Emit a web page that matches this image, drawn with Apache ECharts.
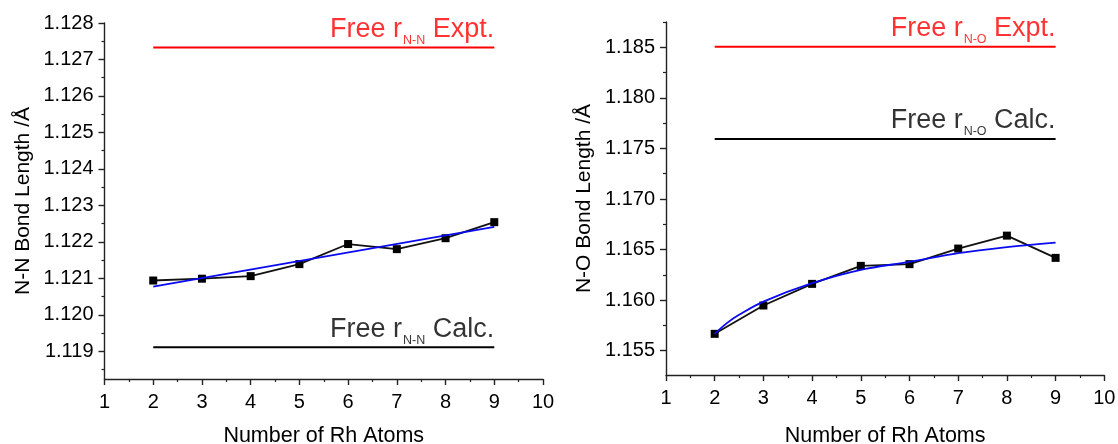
<!DOCTYPE html>
<html><head><meta charset="utf-8">
<script src="https://cdn.jsdelivr.net/npm/echarts@6/dist/echarts.min.js"></script>
<style>html,body{margin:0;padding:0;background:#fff}#c{width:1118px;height:444px}</style>
</head><body><div id="c"></div>
<script>
// ---- data ----
const rhAtoms = [2, 3, 4, 5, 6, 7, 8, 9];
const nnLength = [1.12094, 1.12099, 1.12106, 1.12139, 1.12194, 1.12180, 1.12210, 1.12254];
const nnFitX = [2, 9];
const nnFit = [1.12077, 1.12241];
const nnExpt = 1.12733;
const nnCalc = 1.11911;
const noLength = [1.15667, 1.15947, 1.16161, 1.16339, 1.16356, 1.16510, 1.16638, 1.16418];
const noFitX = [2, 2.25, 2.5, 3, 4, 5, 6, 7, 8, 9];
const noFit = [1.15667, 1.15773, 1.15855, 1.15986, 1.16168, 1.16300, 1.16378, 1.16464, 1.16524, 1.16569];
const noExpt = 1.18505;
const noCalc = 1.17594;
const refStart = 2, refEnd = 9;
const xTicks = [1, 2, 3, 4, 5, 6, 7, 8, 9, 10];
const xMinor = [1.5, 2.5, 3.5, 4.5, 5.5, 6.5, 7.5, 8.5, 9.5];
const nnTicks = [1.119, 1.120, 1.121, 1.122, 1.123, 1.124, 1.125, 1.126, 1.127, 1.128];
const nnMinor = [1.1185, 1.1195, 1.1205, 1.1215, 1.1225, 1.1235, 1.1245, 1.1255, 1.1265, 1.1275];
const noTicks = [1.155, 1.160, 1.165, 1.170, 1.175, 1.180, 1.185];
const noMinor = [1.1575, 1.1625, 1.1675, 1.1725, 1.1775, 1.1825, 1.1875];
const nnRange = [1.11824, 1.128];
const noRange = [1.1526, 1.1875];
const xRange = [1, 10];

const FONT = '"Liberation Sans", Arial, sans-serif';
const AX = '#222';
const TXT = '#000';

function mainX(grid, gap) {
  return {
    type: 'value', gridIndex: grid, position: 'bottom', min: xRange[0], max: xRange[1],
    name: 'Number of Rh Atoms', nameLocation: 'middle', nameGap: gap,
    nameTextStyle: {fontFamily: FONT, fontSize: 21.5, color: TXT},
    axisLine: {show: true, lineStyle: {color: AX, width: 1.4}},
    axisTick: {show: true, inside: false, length: 6, customValues: xTicks, lineStyle: {color: AX, width: 1.4}},
    axisLabel: {customValues: xTicks, fontFamily: FONT, fontSize: 20, color: TXT, margin: 13},
    splitLine: {show: false}
  };
}
function minorX(grid) {
  return {
    type: 'value', gridIndex: grid, position: 'bottom', min: xRange[0], max: xRange[1],
    axisLine: {show: false},
    axisTick: {show: true, inside: false, length: 3, customValues: xMinor, lineStyle: {color: AX, width: 1.2}},
    axisLabel: {show: false, customValues: xMinor},
    splitLine: {show: false}
  };
}
function mainY(grid, range, ticks, name) {
  return {
    type: 'value', gridIndex: grid, position: 'left', min: range[0], max: range[1],
    name: name, nameLocation: 'middle', nameGap: 71,
    nameTextStyle: {fontFamily: FONT, fontSize: 21, color: TXT},
    axisLine: {show: true, lineStyle: {color: AX, width: 1.4}},
    axisTick: {show: true, inside: false, length: 6, customValues: ticks, lineStyle: {color: AX, width: 1.4}},
    axisLabel: {customValues: ticks, fontFamily: FONT, fontSize: 20, color: TXT, margin: 11,
      formatter: v => v.toFixed(3)},
    splitLine: {show: false}
  };
}
function minorY(grid, range, ticks) {
  return {
    type: 'value', gridIndex: grid, position: 'left', min: range[0], max: range[1],
    axisLine: {show: false},
    axisTick: {show: true, inside: false, length: 3, customValues: ticks, lineStyle: {color: AX, width: 1.2}},
    axisLabel: {show: false, customValues: ticks},
    splitLine: {show: false}
  };
}
function refLine(xi, yi, v, color) {
  return {
    type: 'line', xAxisIndex: xi, yAxisIndex: yi, data: [[refStart, v], [refEnd, v]],
    symbol: 'none', lineStyle: {color: color, width: 2}, silent: true, z: 2
  };
}
function refLabel(xi, yi, v, color, sub, word) {
  return {
    type: 'scatter', xAxisIndex: xi, yAxisIndex: yi, data: [[refEnd, v]],
    symbolSize: 1, itemStyle: {color: 'rgba(0,0,0,0)'}, silent: true, z: 5,
    label: {
      show: true, position: 'top', distance: 4, align: 'right', verticalAlign: 'bottom',
      formatter: '{m|Free r}{s|' + sub + '}{m| ' + word + '}',
      rich: {
        m: {fontFamily: FONT, fontSize: 27, lineHeight: 27, verticalAlign: 'top', color: color},
        s: {fontFamily: FONT, fontSize: 12.5, lineHeight: 12, verticalAlign: 'top', padding: [18, 0, 0, 1], color: color}
      }
    }
  };
}
function dataLine(xi, yi, ys) {
  return {
    type: 'line', xAxisIndex: xi, yAxisIndex: yi, data: rhAtoms.map((x, i) => [x, ys[i]]),
    symbol: 'rect', symbolSize: 8, itemStyle: {color: '#000'},
    lineStyle: {color: '#111', width: 1.8}, z: 3
  };
}
function fitLine(xi, yi, xs, ys, smooth) {
  return {
    type: 'line', xAxisIndex: xi, yAxisIndex: yi, data: xs.map((x, i) => [x, ys[i]]),
    symbol: 'none', smooth: smooth, lineStyle: {color: '#0a0af0', width: 1.8}, z: 4
  };
}

const chart = echarts.init(document.getElementById('c'), null, {renderer: 'canvas'});
chart.setOption({
  backgroundColor: '#fff',
  animation: false,
  grid: [
    {left: 104.5, top: 23, width: 438.5, height: 356, containLabel: false, outerBoundsMode: 'none'},
    {left: 666, top: 22, width: 438.3, height: 353, containLabel: false, outerBoundsMode: 'none'}
  ],
  xAxis: [mainX(0, 46), minorX(0), mainX(1, 50), minorX(1)],
  yAxis: [
    mainY(0, nnRange, nnTicks, 'N-N Bond Length /Å'), minorY(0, nnRange, nnMinor),
    mainY(1, noRange, noTicks, 'N-O Bond Length /Å'), minorY(1, noRange, noMinor)
  ],
  series: [
    refLine(0, 0, nnExpt, '#ff0000'),
    refLine(0, 0, nnCalc, '#000'),
    refLabel(0, 0, nnExpt, '#ff0000', 'N-N', 'Expt.'),
    refLabel(0, 0, nnCalc, '#000', 'N-N', 'Calc.'),
    dataLine(0, 0, nnLength),
    fitLine(0, 0, nnFitX, nnFit, false),
    refLine(2, 2, noExpt, '#ff0000'),
    refLine(2, 2, noCalc, '#000'),
    refLabel(2, 2, noExpt, '#ff0000', 'N-O', 'Expt.'),
    refLabel(2, 2, noCalc, '#000', 'N-O', 'Calc.'),
    dataLine(2, 2, noLength),
    fitLine(2, 2, noFitX, noFit, 0.35)
  ]
});
</script>
</body></html>
